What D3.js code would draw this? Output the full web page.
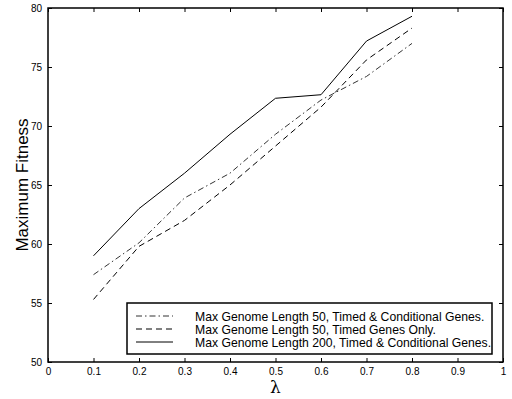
<!DOCTYPE html>
<html>
<head>
<meta charset="utf-8">
<script src="https://cdn.jsdelivr.net/npm/d3@7"></script>
<style>
  body { margin: 0; background: #fff; }
  text { font-family: Arial, "Liberation Sans", Helvetica, sans-serif; }
</style>
</head>
<body>
<svg id="chart" width="512" height="399"></svg>
<script>
var lambdas = [0.1, 0.2, 0.3, 0.4, 0.5, 0.6, 0.7, 0.8];
var len50Cond = [57.4, 60.1, 63.9, 66.0, 69.3, 72.2, 74.2, 77.0];
var len50Timed = [55.3, 59.8, 62.0, 65.0, 68.3, 71.6, 75.6, 78.3];
var len200Cond = [59.0, 63.0, 66.0, 69.3, 72.35, 72.65, 77.2, 79.3];
var seriesNames = [
  'Max Genome Length 50, Timed & Conditional Genes.',
  'Max Genome Length 50, Timed Genes Only.',
  'Max Genome Length 200, Timed & Conditional Genes.'
];
var xTicks = [0, 0.1, 0.2, 0.3, 0.4, 0.5, 0.6, 0.7, 0.8, 0.9, 1];
var yTicks = [50, 55, 60, 65, 70, 75, 80];

var plotL = 48, plotR = 503, plotT = 8, plotB = 362;

var svg = d3.select('#chart');

var x = d3.scaleLinear().domain([0, 1]).range([plotL, plotR]);
var y = d3.scaleLinear().domain([50, 80]).range([plotB, plotT]);

var series = [
  { values: len50Cond, dash: '6,3,1.5,3', color: '#333' },
  { values: len50Timed, dash: '6,4', color: '#000' },
  { values: len200Cond, dash: null, color: '#000' }
];

// axes with inward ticks
svg.append('g')
  .attr('transform', 'translate(0,' + plotB + ')')
  .call(d3.axisBottom(x).tickValues(xTicks).tickSizeInner(-4).tickSizeOuter(0).tickPadding(6)
    .tickFormat(function(d) { return d === 0 || d === 1 ? d3.format('d')(d) : d3.format('.1f')(d); }));
svg.append('g')
  .attr('transform', 'translate(0,' + plotT + ')')
  .call(d3.axisTop(x).tickValues(xTicks).tickSizeInner(-4).tickSizeOuter(0).tickFormat(''));
svg.append('g')
  .attr('transform', 'translate(' + plotL + ',0)')
  .call(d3.axisLeft(y).tickValues(yTicks).tickSizeInner(-4).tickSizeOuter(0).tickPadding(6));
svg.append('g')
  .attr('transform', 'translate(' + plotR + ',0)')
  .call(d3.axisRight(y).tickValues(yTicks).tickSizeInner(-4).tickSizeOuter(0).tickFormat(''));

svg.selectAll('.domain').remove();
svg.selectAll('.tick text').style('font-size', '10px').attr('fill', '#000');
svg.selectAll('.tick line').attr('stroke', '#000');

svg.append('rect')
  .attr('x', plotL).attr('y', plotT)
  .attr('width', plotR - plotL).attr('height', plotB - plotT)
  .attr('fill', 'none').attr('stroke', '#000').attr('stroke-width', 1.5);

var line = d3.line()
  .x(function(d, i) { return x(lambdas[i]); })
  .y(function(d) { return y(d); });

svg.selectAll('path.series')
  .data(series)
  .enter().append('path')
  .attr('class', 'series')
  .attr('d', function(d) { return line(d.values); })
  .attr('fill', 'none')
  .attr('stroke', function(d) { return d.color; })
  .attr('stroke-width', 1)
  .attr('stroke-dasharray', function(d) { return d.dash; });

// legend
var lg = svg.append('g');
lg.append('rect')
  .attr('x', 127).attr('y', 303)
  .attr('width', 365).attr('height', 51)
  .attr('fill', '#fff').attr('stroke', '#000').attr('stroke-width', 1.5);

var rows = lg.selectAll('g.row')
  .data(series)
  .enter().append('g')
  .attr('class', 'row')
  .attr('transform', function(d, i) { return 'translate(0,' + (316 + i * 13) + ')'; });
rows.append('line')
  .attr('x1', 136).attr('x2', 173).attr('y1', 0).attr('y2', 0)
  .attr('stroke', function(d) { return d.color; })
  .attr('stroke-width', 1)
  .attr('stroke-dasharray', function(d) { return d.dash; });
rows.append('text')
  .attr('x', 195).attr('y', 4.5)
  .style('font-size', '12.2px')
  .text(function(d, i) { return seriesNames[i]; });

svg.append('text')
  .attr('transform', 'translate(28,' + ((plotT + plotB) / 2) + ') rotate(-90)')
  .attr('text-anchor', 'middle')
  .style('font-size', '17px')
  .text('Maximum Fitness');

svg.append('text')
  .attr('x', (plotL + plotR) / 2).attr('y', 393)
  .attr('text-anchor', 'middle')
  .style('font-size', '17px')
  .style('font-family', '"DejaVu Serif", serif')
  .text('λ');
</script>
</body>
</html>
